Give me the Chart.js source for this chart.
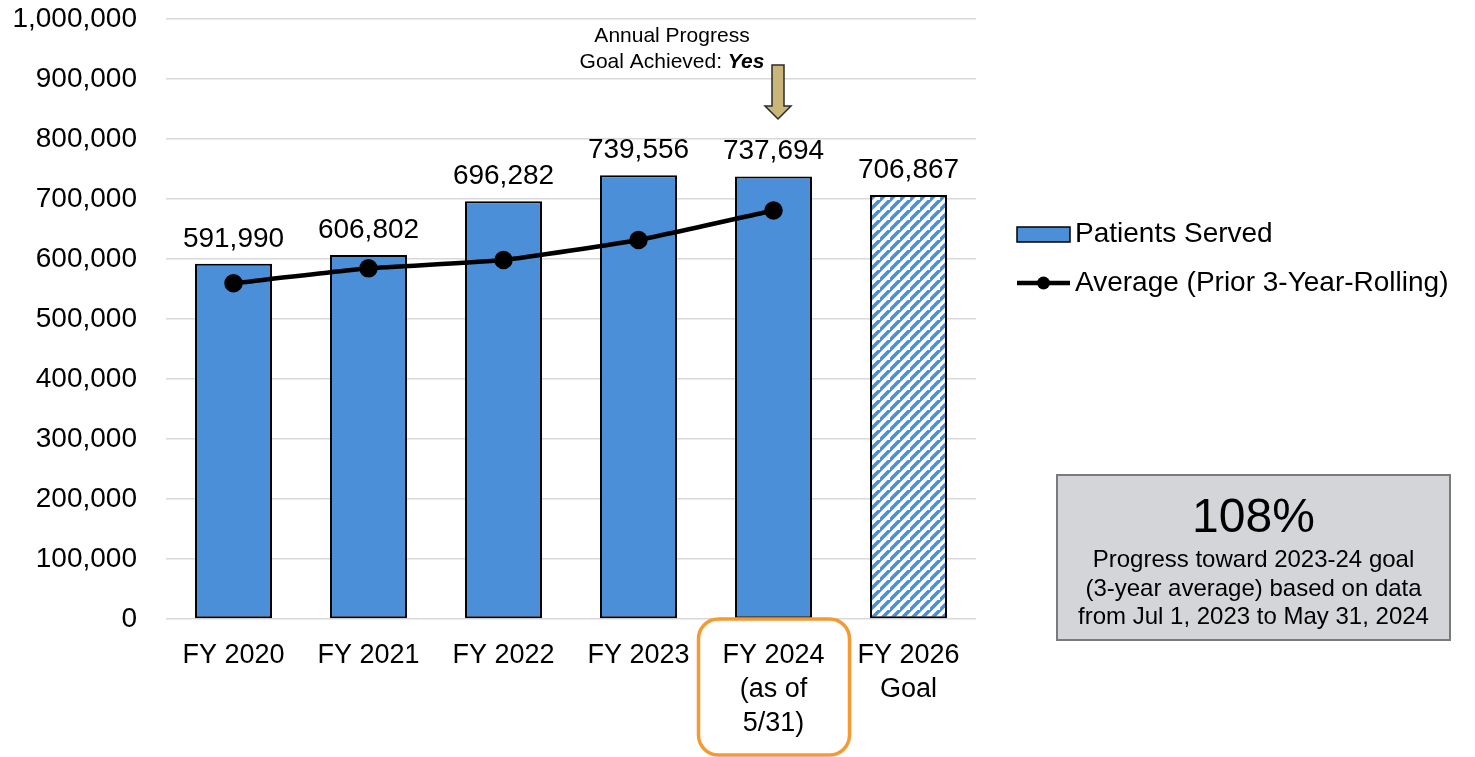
<!DOCTYPE html>
<html>
<head>
<meta charset="utf-8">
<script src="https://cdn.jsdelivr.net/npm/chart.js@4.4.1/dist/chart.umd.min.js"></script>
<style>
  html, body { margin: 0; padding: 0; background: #ffffff; }
  #wrap { width: 1475px; height: 757px; position: relative; }
</style>
</head>
<body>
<div id="wrap"><canvas id="c" width="1475" height="757"></canvas></div>
<script>
// ---- Data ----
const categories = [["FY 2020"], ["FY 2021"], ["FY 2022"], ["FY 2023"], ["FY 2024", "(as of", "5/31)"], ["FY 2026", "Goal"]];
const patientsServed = [591990, 606802, 696282, 739556, 737694, 706867];
const rollingAverage = [559500, 584400, 598300, 631700, 680900, null];
const yTicks = [0, 100000, 200000, 300000, 400000, 500000, 600000, 700000, 800000, 900000, 1000000];
const seriesNames = ["Patients Served", "Average (Prior 3-Year-Rolling)"];
const annotationLines = ["Annual Progress", "Goal Achieved: ", "Yes"];
const progressBig = "108%";
const progressLines = ["Progress toward 2023-24 goal", "(3-year average) based on data", "from Jul 1, 2023 to May 31, 2024"];
const highlightIndex = 4;

// ---- Styles ----
const FONT = "'Liberation Sans', Arial, Helvetica, sans-serif";
const BAR_BLUE = "#4a8fd8";

function makeHatch() {
  const s = 10;
  const cv = document.createElement('canvas');
  cv.width = s; cv.height = s;
  const g = cv.getContext('2d');
  g.fillStyle = '#ffffff';
  g.fillRect(0, 0, s, s);
  g.strokeStyle = BAR_BLUE;
  g.lineWidth = 3.6;
  g.beginPath();
  g.moveTo(-2, s + 2); g.lineTo(s + 2, -2);
  g.moveTo(-2 - s, s + 2); g.lineTo(2, -2);
  g.moveTo(s - 2, 2 * s + 2); g.lineTo(2 * s + 2, s - 2);
  g.stroke();
  return g.createPattern(cv, 'repeat');
}
const hatch = makeHatch();
const barColors = patientsServed.map((v, i) => i === patientsServed.length - 1 ? hatch : BAR_BLUE);

Chart.defaults.font.family = FONT;
Chart.defaults.color = '#000';

const fmt = v => Number(v).toLocaleString('en-US');

const decorPlugin = {
  id: 'decor',
  afterDatasetsDraw(chart) {
    const ctx = chart.ctx;
    const barMeta = chart.getDatasetMeta(1);
    ctx.save();
    ctx.font = `28px ${FONT}`;
    ctx.fillStyle = '#000';
    ctx.textAlign = 'center';
    ctx.textBaseline = 'alphabetic';
    barMeta.data.forEach((bar, i) => {
      ctx.fillText(fmt(patientsServed[i]), bar.x, bar.y - 17);
    });
    ctx.restore();
  },
  afterDraw(chart) {
    const ctx = chart.ctx;
    const xs = chart.scales.x;
    const hx = xs.getPixelForValue(highlightIndex);

    // orange rounded box around highlighted label
    ctx.save();
    ctx.strokeStyle = '#f59a33';
    ctx.lineWidth = 3.5;
    ctx.beginPath();
    ctx.roundRect(hx - 75, 619, 151, 136, 20);
    ctx.stroke();
    ctx.restore();

    // annotation text
    ctx.save();
    ctx.fillStyle = '#000';
    ctx.textBaseline = 'middle';
    ctx.textAlign = 'center';
    ctx.font = `21px ${FONT}`;
    const ax = 672;
    ctx.fillText(annotationLines[0], ax, 36);
    ctx.textAlign = 'left';
    const w1 = ctx.measureText(annotationLines[1]).width;
    ctx.font = `italic bold 21px ${FONT}`;
    const w2 = ctx.measureText(annotationLines[2]).width;
    const sx = ax - (w1 + w2) / 2;
    ctx.font = `21px ${FONT}`;
    ctx.fillText(annotationLines[1], sx, 62);
    ctx.font = `italic bold 21px ${FONT}`;
    ctx.fillText(annotationLines[2], sx + w1, 62);
    ctx.restore();

    // arrow
    const cx = hx + 4.5;
    ctx.save();
    ctx.fillStyle = '#cbb679';
    ctx.strokeStyle = '#2b2b2b';
    ctx.lineWidth = 1.5;
    ctx.beginPath();
    ctx.moveTo(cx - 6, 65);
    ctx.lineTo(cx + 6, 65);
    ctx.lineTo(cx + 6, 106);
    ctx.lineTo(cx + 13, 106);
    ctx.lineTo(cx, 119);
    ctx.lineTo(cx - 13, 106);
    ctx.lineTo(cx - 6, 106);
    ctx.closePath();
    ctx.fill();
    ctx.stroke();
    ctx.restore();

    // legend
    const lineDs = chart.data.datasets[0];
    ctx.save();
    ctx.fillStyle = BAR_BLUE;
    ctx.strokeStyle = '#000';
    ctx.lineWidth = 1.5;
    ctx.fillRect(1017, 227, 53, 15);
    ctx.strokeRect(1017, 227, 53, 15);
    ctx.strokeStyle = lineDs.borderColor;
    ctx.lineWidth = 4.5;
    ctx.beginPath();
    ctx.moveTo(1017, 283); ctx.lineTo(1070, 283);
    ctx.stroke();
    ctx.fillStyle = lineDs.pointBackgroundColor;
    ctx.beginPath();
    ctx.arc(1043.5, 283, 6.5, 0, Math.PI * 2);
    ctx.fill();
    ctx.fillStyle = '#000';
    ctx.font = `28px ${FONT}`;
    ctx.textAlign = 'left';
    ctx.textBaseline = 'middle';
    ctx.fillText(seriesNames[0], 1075, 234);
    ctx.fillText(seriesNames[1], 1075, 283);
    ctx.restore();

    // progress box
    ctx.save();
    ctx.fillStyle = '#d3d5d8';
    ctx.fillRect(1057, 475, 393, 165);
    ctx.strokeStyle = '#7a7a7a';
    ctx.lineWidth = 2;
    ctx.strokeRect(1057, 475, 393, 165);
    ctx.fillStyle = '#000';
    ctx.textAlign = 'center';
    ctx.textBaseline = 'alphabetic';
    ctx.font = `48px ${FONT}`;
    ctx.fillText(progressBig, 1253.5, 532);
    ctx.font = `24px ${FONT}`;
    progressLines.forEach((t, i) => ctx.fillText(t, 1253.5, 567 + i * 28.5));
    ctx.restore();
  }
};

new Chart(document.getElementById('c'), {
  data: {
    labels: categories,
    datasets: [
      {
        type: 'line',
        label: seriesNames[1],
        data: rollingAverage,
        borderColor: '#000',
        backgroundColor: '#000',
        pointBackgroundColor: '#000',
        pointBorderColor: '#000',
        borderWidth: 4.5,
        pointRadius: 7,
        pointHoverRadius: 7,
        tension: 0.15,
        spanGaps: false
      },
      {
        type: 'bar',
        label: seriesNames[0],
        data: patientsServed,
        backgroundColor: barColors,
        borderColor: '#000',
        borderWidth: 2,
        borderSkipped: false,
        categoryPercentage: 1,
        barPercentage: 0.57
      }
    ]
  },
  options: {
    responsive: false,
    animation: false,
    events: [],
    layout: { padding: { top: 19, right: 499, left: 0, bottom: 0 } },
    plugins: { legend: { display: false }, tooltip: { enabled: false } },
    scales: {
      x: {
        grid: { display: false, drawTicks: false },
        border: { display: false },
        ticks: { font: { size: 27, family: FONT, lineHeight: 1.25 }, color: '#000', padding: 20, maxRotation: 0, autoSkip: false },
        afterFit(s) { s.height = 138; s.paddingLeft = 0; s.paddingRight = 0; s.paddingTop = 0; s.paddingBottom = 0; }
      },
      y: {
        min: 0, max: 1000000,
        afterBuildTicks(s) { s.ticks = yTicks.map(v => ({ value: v })); },
        grid: { color: '#d9d9d9', lineWidth: 1.5, drawTicks: false },
        border: { display: false },
        ticks: { font: { size: 28, family: FONT }, color: '#000', padding: 29, callback: v => fmt(v) },
        afterFit(s) { s.width = 166; s.paddingTop = 0; s.paddingBottom = 0; s.paddingLeft = 0; s.paddingRight = 0; }
      }
    }
  },
  plugins: [decorPlugin]
});
</script>
</body>
</html>
